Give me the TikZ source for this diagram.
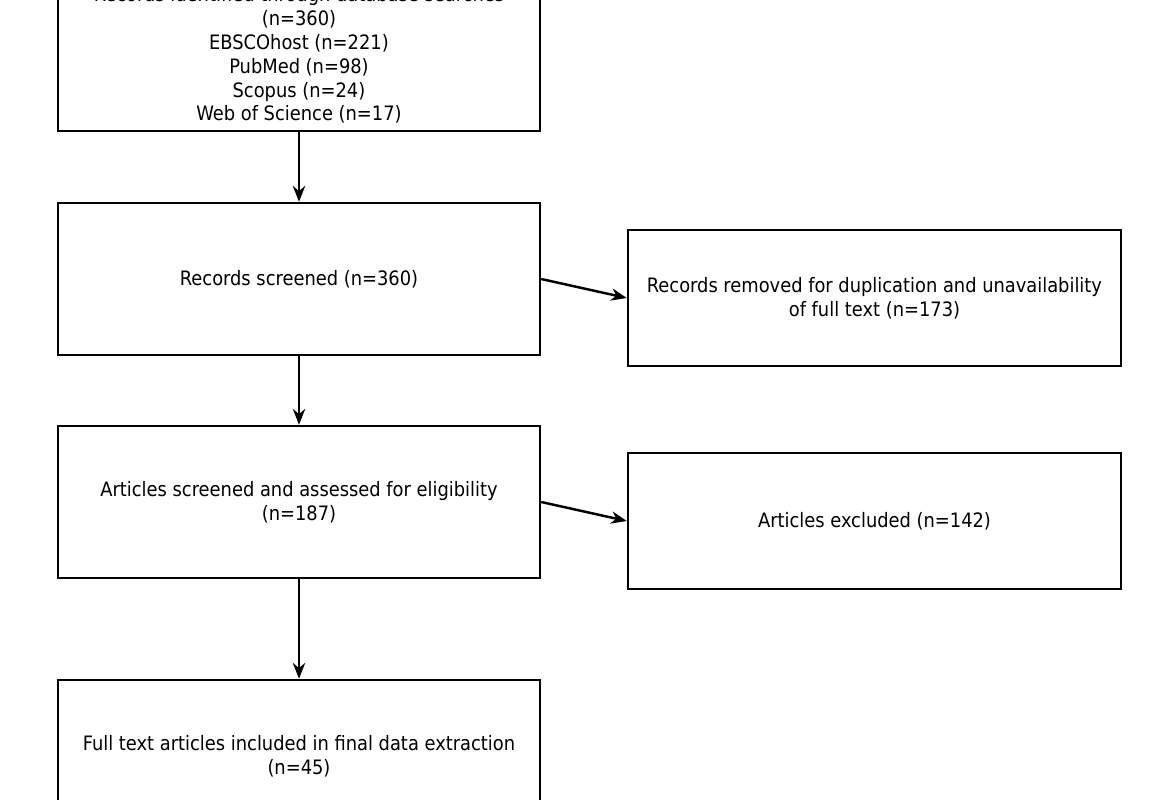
\documentclass[tikz,border=0pt]{standalone}
\usepackage{fontspec}
\setmainfont{DejaVu Sans Condensed}
\usetikzlibrary{arrows.meta}
\begin{document}
\begin{tikzpicture}[x=0.02cm, y=-0.02cm, line width=1.4pt,
                    box/.style={draw, rectangle, align=center, fill=white,
                                font=\fontsize{11.3}{13.6}\selectfont},
                    leftbox/.style={box, minimum width=9.64cm, minimum height=3.04cm},
                    rightbox/.style={box, minimum width=9.86cm, minimum height=2.72cm},
                    arr/.style={-{Stealth[length=9pt, width=7pt]}}]
    \useasboundingbox (0,0) rectangle (1170,800);
    \node[leftbox] (identified) at (299,55)
        {Records identified through database searches\\(n=360)\\EBSCOhost (n=221)\\PubMed (n=98)\\Scopus (n=24)\\Web of Science (n=17)};
    \node[leftbox] (screened) at (299,279) {Records screened (n=360)};
    \node[leftbox] (assessed) at (299,502) {Articles screened and assessed for eligibility\\(n=187)};
    \node[leftbox] (included) at (299,756) {Full text articles included in final data extraction\\(n=45)};
    \node[rightbox] (removed) at (874.5,298) {Records removed for duplication and unavailability\\of full text (n=173)};
    \node[rightbox] (excluded) at (874.5,521) {Articles excluded (n=142)};
    \draw[arr] (identified) -- (screened);
    \draw[arr] (screened) -- (assessed);
    \draw[arr] (assessed) -- (included);
    \draw[arr] (screened.east) -- (removed.west);
    \draw[arr] (assessed.east) -- (excluded.west);
\end{tikzpicture}
\end{document}
